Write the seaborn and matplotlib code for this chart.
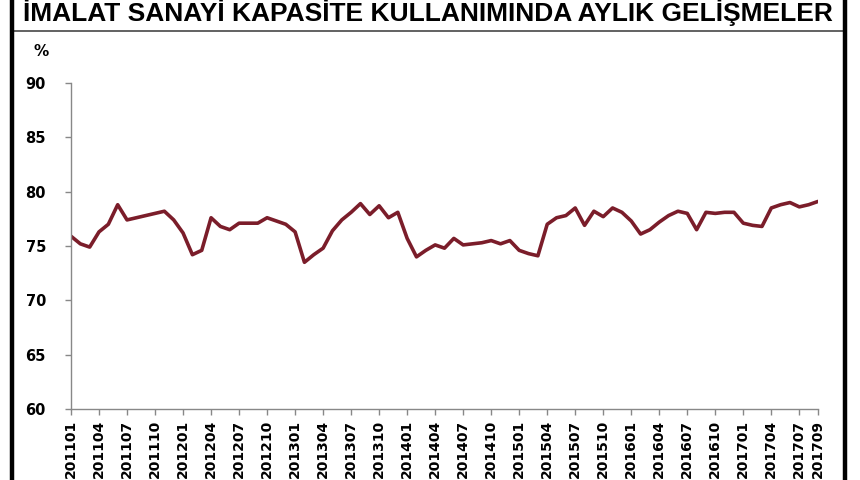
import numpy as np
import pandas as pd
import matplotlib
matplotlib.use("Agg")
import matplotlib.pyplot as plt
import seaborn as sns
from matplotlib.lines import Line2D

sns.set_style("white")
plt.rcParams["text.color"] = "black"
plt.rcParams["xtick.color"] = "black"
plt.rcParams["ytick.color"] = "black"

# monthly capacity utilisation, 2011-01 .. 2017-09
years = list(range(2011, 2018))
rate = [75.9, 75.2, 74.9, 76.3, 77.0, 78.8, 77.4, 77.6, 77.8, 78.0, 78.2, 77.4,
        76.2, 74.2, 74.6, 77.6, 76.8, 76.5, 77.1, 77.1, 77.1, 77.6, 77.3, 77.0,
        76.3, 73.5, 74.2, 74.8, 76.4, 77.4, 78.1, 78.9, 77.9, 78.7, 77.6, 78.1,
        75.7, 74.0, 74.6, 75.1, 74.8, 75.7, 75.1, 75.2, 75.3, 75.5, 75.2, 75.5,
        74.6, 74.3, 74.1, 77.0, 77.6, 77.8, 78.5, 76.9, 78.2, 77.7, 78.5, 78.1,
        77.3, 76.1, 76.5, 77.2, 77.8, 78.2, 78.0, 76.5, 78.1, 78.0, 78.1, 78.1,
        77.1, 76.9, 76.8, 78.5, 78.8, 79.0, 78.6, 78.8, 79.1]
months = [f"{y}{m:02d}" for y in years for m in range(1, 13)][:len(rate)]
title = "İMALAT SANAYİ KAPASİTE KULLANIMINDA AYLIK GELİŞMELER"

df = pd.DataFrame({"idx": range(len(rate)), "month": months, "rate": rate})

fig = plt.figure(figsize=(8.6, 4.8), dpi=100)
ax = fig.add_axes([71 / 860, 1 - 409 / 480, 747 / 860, 326 / 480])

sns.lineplot(data=df, x="idx", y="rate", ax=ax, color="#7b1d2a", linewidth=2.6)

ax.set_xlim(0, len(rate) - 1)
ax.set_ylim(60, 90)
ax.set_yticks([60, 65, 70, 75, 80, 85, 90])
tick_pos = list(range(0, len(rate), 3))
if tick_pos[-1] != len(rate) - 1:
    tick_pos.append(len(rate) - 1)
ax.set_xticks(tick_pos)
ax.set_xticklabels([months[i] for i in tick_pos], rotation=90,
                   fontsize=10, fontweight="bold")
ax.set_yticklabels([str(v) for v in [60, 65, 70, 75, 80, 85, 90]],
                   fontsize=10.5, fontweight="bold")
ax.set_xlabel("")
ax.set_ylabel("")
for side in ["top", "right"]:
    ax.spines[side].set_visible(False)
for side in ["left", "bottom"]:
    ax.spines[side].set_color("#888888")
    ax.spines[side].set_linewidth(1.0)
ax.tick_params(axis="both", which="both", direction="out", length=4,
               width=1, color="#888888", bottom=True, left=True)
ax.tick_params(axis="y", pad=14)
ax.tick_params(axis="x", pad=4)

fig.text(33 / 860, 1 - 56 / 480, "%", fontsize=11, fontweight="bold",
         ha="left", va="baseline")

# title box
fig.text(428 / 860, 1 - 21 / 480, title, fontsize=19, fontweight="bold",
         ha="center", va="baseline",
         family=["Liberation Sans Narrow", "Liberation Sans", "DejaVu Sans"])
fig.add_artist(Line2D([14 / 860, 843 / 860], [1 - 31 / 480, 1 - 31 / 480],
                      transform=fig.transFigure, color="#555555", lw=1.3))
fig.add_artist(Line2D([12 / 860, 12 / 860], [0, 1],
                      transform=fig.transFigure, color="black", lw=3.2))
fig.add_artist(Line2D([845 / 860, 845 / 860], [0, 1],
                      transform=fig.transFigure, color="black", lw=3.2))

fig.savefig("out.png", dpi=100)
